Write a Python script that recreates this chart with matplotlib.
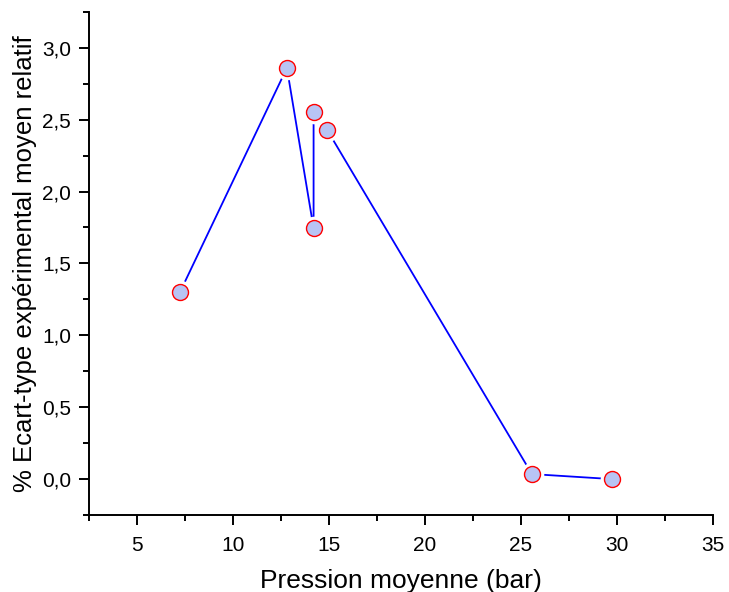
import matplotlib.pyplot as plt
from matplotlib.ticker import MultipleLocator, FuncFormatter

plt.rcParams['font.family'] = ['Liberation Sans', 'DejaVu Sans']

# pression moyenne (bar) et écart-type relatif (%)
pression = [7.24, 12.81, 14.2, 14.2, 14.9, 25.57, 29.74]
ecart = [1.30, 2.86, 1.745, 2.55, 2.43, 0.035, 0.0]

fig = plt.figure(figsize=(7.29, 5.92), dpi=100)
ax = fig.add_axes([0.122, 0.130, 0.856, 0.850])

ax.plot(pression, ecart, color='#0000ff', lw=1.3, zorder=2)
# blanc autour des symboles pour couper la ligne
ax.plot(pression, ecart, 'o', ms=16, mfc='white', mec='white', zorder=3)
ax.plot(pression, ecart, 'o', ms=11.5, mfc='#b8c4f4', mec='#ff0000',
        mew=1.0, zorder=4)

ax.set_xlim(2.5, 35)
ax.set_ylim(-0.25, 3.25)
ax.xaxis.set_major_locator(MultipleLocator(5))
ax.xaxis.set_minor_locator(MultipleLocator(2.5))
ax.yaxis.set_major_locator(MultipleLocator(0.5))
ax.yaxis.set_minor_locator(MultipleLocator(0.25))
ax.yaxis.set_major_formatter(FuncFormatter(lambda v, p: f'{v:.1f}'.replace('.', ',')))

for s in ['top', 'right']:
    ax.spines[s].set_visible(False)
for s in ['left', 'bottom']:
    ax.spines[s].set_linewidth(1.4)

ax.tick_params(which='major', direction='out', length=7, width=1.4, labelsize=15)
ax.tick_params(which='minor', direction='out', length=4, width=1.4)
ax.tick_params(axis='x', which='major', pad=8)
ax.tick_params(axis='y', which='major', pad=6)

ax.set_xlabel('Pression moyenne (bar)', fontsize=19, labelpad=10)
ax.set_ylabel('% Ecart-type expérimental moyen relatif', fontsize=18.5, labelpad=3.5)

fig.savefig('out.png', dpi=100)
